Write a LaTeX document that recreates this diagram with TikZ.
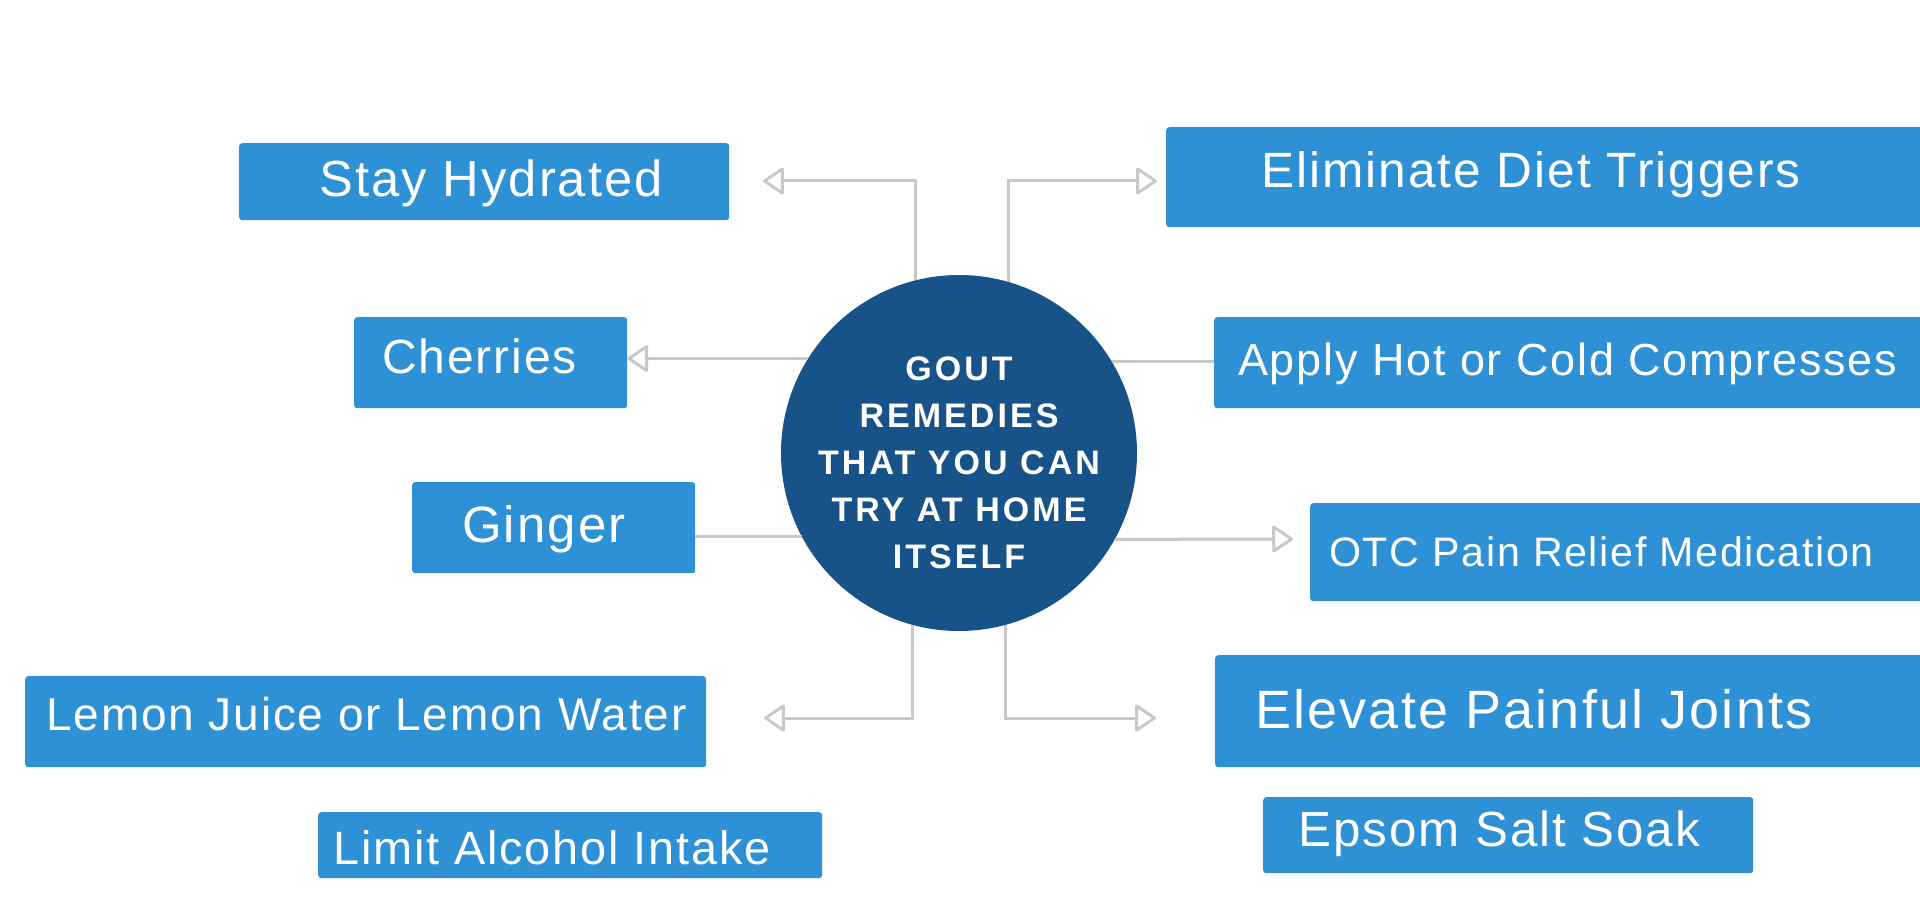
\documentclass[tikz,border=0pt]{standalone}
\usepackage{fontspec}
\setmainfont{Liberation Sans}
\newfontfamily\remfont[LetterSpace=4]{Liberation Sans}
\newfontfamily\goutfont[LetterSpace=9]{Liberation Sans}
\usetikzlibrary{arrows.meta, positioning}
\definecolor{RemBlue}{RGB}{46,145,213}
\definecolor{GoutBlue}{RGB}{23,83,137}
\definecolor{LinkGray}{RGB}{200,200,200}
\newcommand{\setfs}[1]{\fontsize{#1}{#1}\selectfont}
\tikzset{
  remedy/.style={fill=RemBlue, rounded corners=3pt, anchor=north west, inner sep=0pt},
  remtext/.style={text=white, anchor=base west, inner sep=0pt, font=\remfont\setfs{49.6}},
  link/.style={draw=LinkGray, line width=3pt},
  tolink/.style={link, -{Triangle[open, round, length=22pt, width=29pt]}},
  goutcirc/.style={circle, fill=GoutBlue, minimum size=356pt, inner sep=0pt},
  gouttext/.style={text=white, align=center, font=\goutfont\bfseries\fontsize{34}{47}\selectfont},
}

\begin{document}
\begin{tikzpicture}[x=1pt, y=1pt]
  \useasboundingbox (0,0) rectangle (1920,-920);
  \clip (0,0) rectangle (1920,-920);

  % centre
  \node[goutcirc] (gout) at (959,-453) {};
  \node[gouttext] (gtext) at (959,-463) {GOUT\\REMEDIES\\THAT YOU CAN\\TRY AT HOME\\ITSELF};

  % remedies on the left
  \node[remedy, minimum width=490pt, minimum height=77pt] (hyd) at (239,-143) {};
  \node[remtext, font=\remfont\setfs{50.7}] (hydtxt) at (319,-197) {Stay Hydrated};
  \node[remedy, minimum width=273pt, minimum height=91pt] (cher) at (354,-317) {};
  \node[remtext, font=\remfont\setfs{48}] (chertxt) at (382,-373) {Cherries};
  \node[remedy, minimum width=283pt, minimum height=91pt] (ging) at (412,-482) {};
  \node[remtext, font=\remfont\setfs{51}] (gingtxt) at (462,-542) {Ginger};
  \node[remedy, minimum width=681pt, minimum height=91pt] (lem) at (25,-676) {};
  \node[remtext, font=\remfont\setfs{46}] (lemtxt) at (46,-730) {Lemon Juice or Lemon Water};
  \node[remedy, minimum width=504pt, minimum height=66pt] (lim) at (318,-812) {};
  \node[remtext, font=\remfont\setfs{46.8}] (limtxt) at (333,-864) {Limit Alcohol Intake};

  % remedies on the right (cut by the page edge)
  \node[remedy, minimum width=780pt, minimum height=100pt] (elim) at (1166,-127) {};
  \node[remtext] (elimtxt) at (1261,-188) {Eliminate Diet Triggers};
  \node[remedy, minimum width=730pt, minimum height=91pt] (appl) at (1214,-317) {};
  \node[remtext, font=\remfont\setfs{45}] (appltxt) at (1238,-375) {Apply Hot or Cold Compresses};
  \node[remedy, minimum width=640pt, minimum height=98pt] (otc) at (1310,-503) {};
  \node[remtext, font=\remfont\setfs{41.2}] (otctxt) at (1329,-566) {OTC Pain Relief Medication};
  \node[remedy, minimum width=730pt, minimum height=112pt] (elev) at (1215,-655) {};
  \node[remtext, font=\remfont\setfs{54}] (elevtxt) at (1255,-728) {Elevate Painful Joints};
  \node[remedy, minimum width=490pt, minimum height=76pt] (eps) at (1263,-797) {};
  \node[remtext, font=\remfont\setfs{49.3}] (epstxt) at (1298,-846) {Epsom Salt Soak};

  % links
  \coordinate (hydtip) at (763,-181);
  \coordinate (elimtip) at (1157,-181);
  \coordinate (otctip) at (1293,-539);
  \coordinate (lemtip) at (764,-718);
  \coordinate (elevtip) at (1156,-718);
  \draw[tolink] (gout.104.6) |- (hydtip);
  \draw[tolink] (gout.74.7) |- (elimtip);
  \draw[tolink] (gout.148.9) -- (gout.148.9 -| cher.east);
  \draw[link] (gout.31.1) -- (gout.31.1 -| appl.west);
  \draw[link] (ging.east |- gout.208.9) -- (gout.208.9);
  \draw[tolink] (gout.331.1) -- (otctip);
  \draw[tolink] (gout.255.4) |- (lemtip);
  \draw[tolink] (gout.285.3) |- (elevtip);
\end{tikzpicture}
\end{document}
